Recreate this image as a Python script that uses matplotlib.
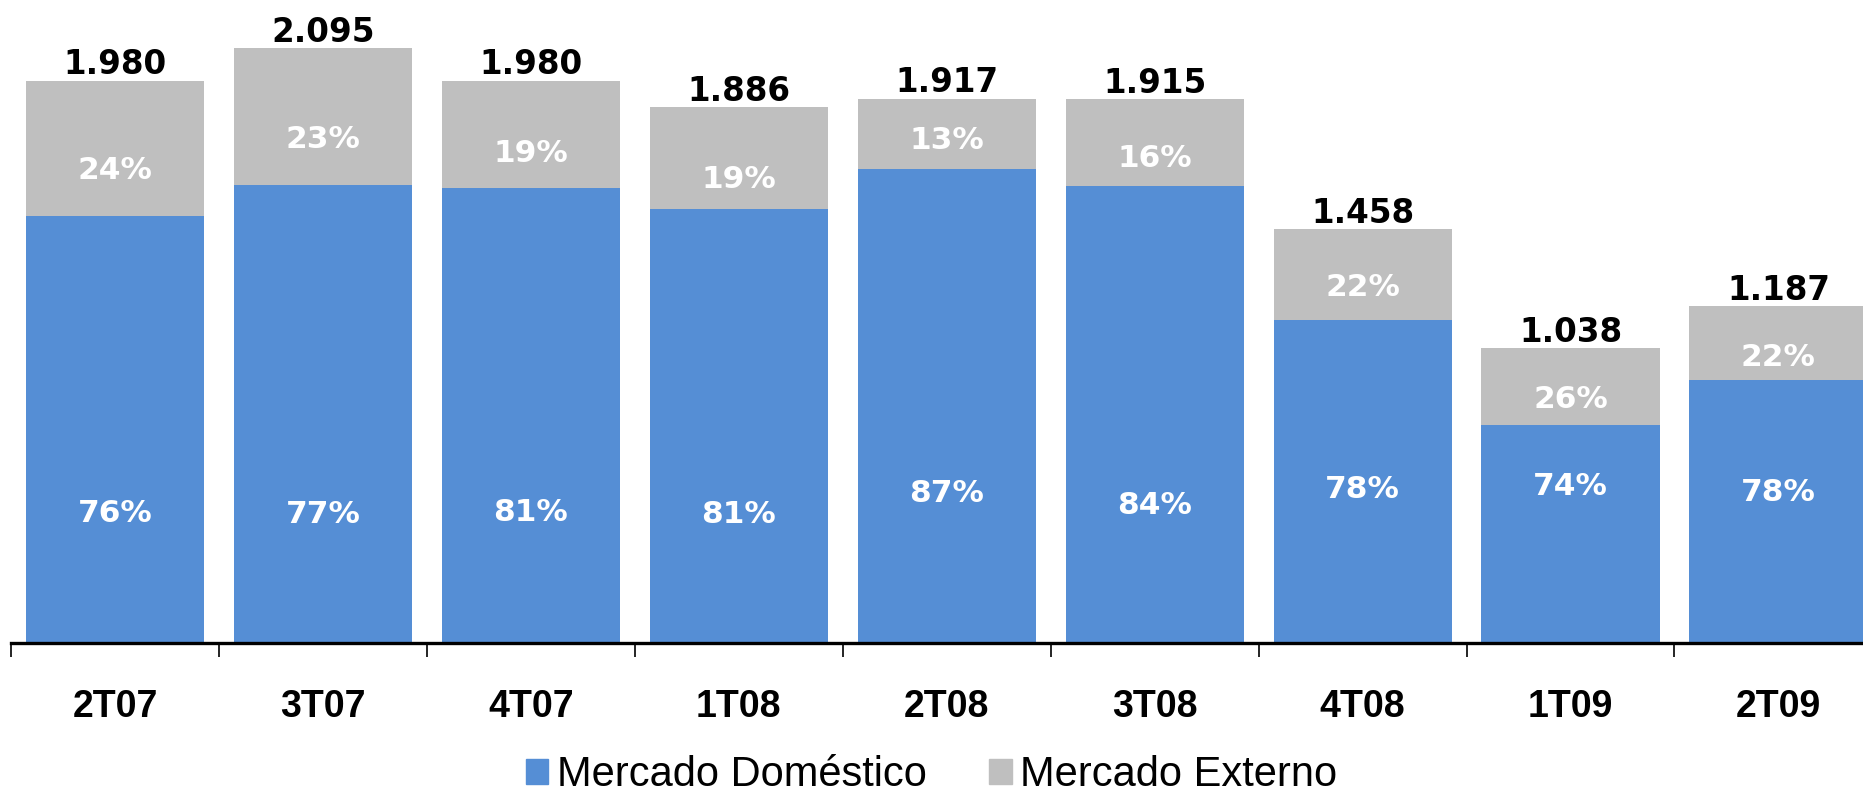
import numpy as np
import matplotlib.pyplot as plt
from matplotlib.patches import Patch

# volumes por trimestre e participação de cada mercado
trimestres = ['2T07', '3T07', '4T07', '1T08', '2T08', '3T08', '4T08', '1T09', '2T09']
totais = [1980, 2095, 1980, 1886, 1917, 1915, 1458, 1038, 1187]
pct_domestico = [76, 77, 81, 81, 87, 84, 78, 74, 78]
pct_externo = [24, 23, 19, 19, 13, 16, 22, 26, 22]

# altura dos rótulos percentuais (unidades do eixo)
pos_rot_dom = [456, 452, 460, 452, 527, 485, 540, 552, 531]
pos_rot_ext = [1665, 1774, 1723, 1631, 1769, 1707, 1251, 858, 1004]

cor_dom = '#558ED5'
cor_ext = '#BFBFBF'

totais = np.array(totais)
domestico = totais * np.array(pct_domestico) / 100
externo = totais - domestico
x = np.arange(len(trimestres))

fig = plt.figure(figsize=(18.63, 7.94), dpi=100)
ax = fig.add_axes([0.0060, 0.19, 1.0044, 0.81])

ax.bar(x, domestico, width=0.857, color=cor_dom)
ax.bar(x, externo, width=0.857, bottom=domestico, color=cor_ext)

for i in range(len(x)):
    ax.text(x[i], pos_rot_dom[i], f'{pct_domestico[i]}%', ha='center', va='center',
            color='white', fontsize=22.5, fontweight='bold', family='DejaVu Sans')
    ax.text(x[i], pos_rot_ext[i], f'{pct_externo[i]}%', ha='center', va='center',
            color='white', fontsize=22.5, fontweight='bold', family='DejaVu Sans')
    rotulo = f'{totais[i]:,}'.replace(',', '.')
    ax.annotate(rotulo, (x[i], totais[i]), xytext=(0, 4.5), textcoords='offset points',
                ha='center', va='baseline', fontsize=23.5, fontweight='bold',
                family='DejaVu Sans', color='black')

ax.set_xlim(-0.5, 8.5)
ax.set_ylim(0, 2264)
ax.set_yticks([])
for s in ['top', 'right', 'left']:
    ax.spines[s].set_visible(False)
ax.spines['bottom'].set_linewidth(2.4)

ax.set_xticks(x)
ax.set_xticklabels(trimestres, fontsize=27, fontweight='bold', family='Liberation Sans')
ax.set_xticks(np.arange(-0.5, 9, 1), minor=True)
ax.tick_params(axis='x', which='major', length=0, pad=33)
ax.tick_params(axis='x', which='minor', length=10, width=1.2, direction='out')

alcas = [Patch(color=cor_dom), Patch(color=cor_ext)]
fig.legend(alcas, ['Mercado Doméstico', 'Mercado Externo'], loc='center',
           bbox_to_anchor=(0.5, 0.024), ncol=2, frameon=False,
           prop={'family': 'Liberation Sans', 'size': 30},
           handlelength=0.55, handleheight=0.55, handletextpad=0.2, columnspacing=1.5,
           borderpad=0.1)

fig.savefig('out.png', dpi=100)
